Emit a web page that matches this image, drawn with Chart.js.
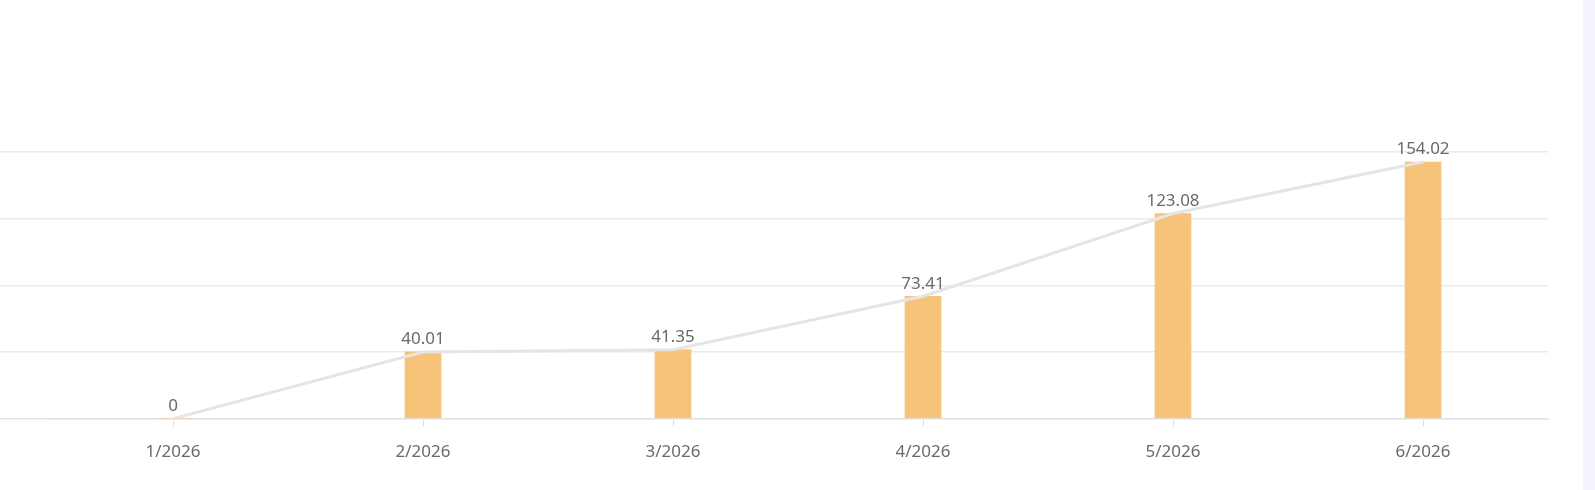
<!DOCTYPE html>
<html>
<head>
<meta charset="utf-8">
<script src="https://cdn.jsdelivr.net/npm/chart.js@4.4.1/dist/chart.umd.min.js"></script>
<style>
  html, body { margin: 0; padding: 0; background: #ffffff; width: 1595px; height: 490px; overflow: hidden; }
  #wrap { position: absolute; left: 0; top: 0; width: 1583px; height: 490px; background: #ffffff; }
  #strip { position: absolute; left: 1583px; top: 0; width: 12px; height: 490px; background: #f3f4fc; }
</style>
</head>
<body>
<div id="wrap"><canvas id="c" width="1583" height="490"></canvas></div>
<div id="strip"></div>
<script>
const categories = ['1/2026', '2/2026', '3/2026', '4/2026', '5/2026', '6/2026'];
const barValues = [0, 40.01, 41.35, 73.41, 123.08, 154.02];
const lineValues = [0, 40.01, 41.35, 73.41, 123.08, 154.02];
const yTicks = [0, 40, 80, 120, 160];

const labelPlugin = {
  id: 'valueLabels',
  afterDatasetsDraw(chart) {
    const ctx = chart.ctx;
    const meta = chart.getDatasetMeta(0);
    ctx.save();
    ctx.font = '17px "Noto Sans", "Open Sans", sans-serif';
    ctx.fillStyle = '#6a6a6a';
    ctx.textAlign = 'center';
    ctx.textBaseline = 'alphabetic';
    meta.data.forEach((el, i) => {
      ctx.fillText(String(barValues[i]), el.x, el.y - 7.5);
    });
    ctx.restore();
  }
};

new Chart(document.getElementById('c'), {
  data: {
    labels: categories,
    datasets: [
      {
        type: 'bar',
        data: barValues,
        backgroundColor: '#f5c479',
        borderWidth: 0,
        barThickness: 36,
        order: 1
      },
      {
        type: 'line',
        data: lineValues,
        borderColor: '#e5e5e5',
        borderWidth: 3,
        pointRadius: 0,
        tension: 0,
        fill: false,
        order: 0
      }
    ]
  },
  options: {
    responsive: false,
    animation: false,
    devicePixelRatio: 1,
    layout: { padding: { left: 0, right: 35, top: 152, bottom: 13 } },
    plugins: { legend: { display: false }, tooltip: { enabled: false } },
    scales: {
      x: {
        type: 'category',
        offset: true,
        grid: { offset: false, drawOnChartArea: false, drawTicks: true, tickLength: 8, color: '#dcdcdc' },
        border: { display: true, color: '#e3e3e3', width: 1.5 },
        ticks: { color: '#6a6a6a', padding: 15, font: { family: '"Noto Sans", "Open Sans", sans-serif', size: 17 } }
      },
      y: {
        min: 0,
        max: 160,
        afterBuildTicks(scale) { scale.ticks = yTicks.map(v => ({ value: v })); },
        grid: {
          color: '#ebebeb',
          lineWidth: 1.5,
          drawTicks: true,
          tickLength: 48,
          tickColor: (c) => (c.tick && c.tick.value === 0 ? '#e3e3e3' : '#ebebeb'),
          tickWidth: 1.5
        },
        border: { display: false },
        ticks: { display: false }
      }
    }
  },
  plugins: [labelPlugin]
});
</script>
</body>
</html>
